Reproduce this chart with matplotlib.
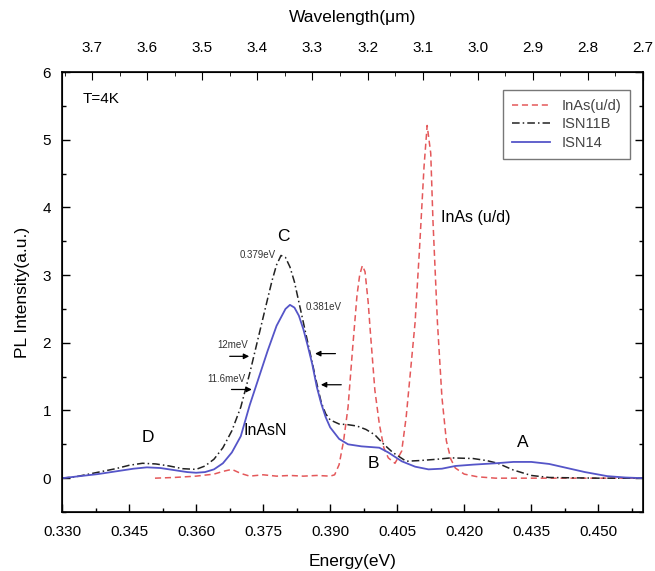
import numpy as np
import matplotlib.pyplot as plt
from matplotlib.ticker import MultipleLocator

plt.rcParams['font.family'] = ['Liberation Sans', 'DejaVu Sans']

# ---- data ----
e_inas = [0.3508, 0.355, 0.360, 0.364, 0.366, 0.368, 0.370, 0.372, 0.375, 0.378,
          0.381, 0.384, 0.387, 0.390, 0.391, 0.392, 0.393, 0.394, 0.395, 0.396,
          0.3966, 0.3972, 0.3978, 0.3985, 0.399, 0.400, 0.401, 0.402, 0.403, 0.4045,
          0.406, 0.407, 0.408, 0.409, 0.410, 0.411, 0.4117, 0.4125, 0.413, 0.414,
          0.415, 0.416, 0.417, 0.418, 0.420, 0.423, 0.427, 0.460]
i_inas = [0.00, 0.01, 0.03, 0.06, 0.10, 0.13, 0.07, 0.03, 0.05, 0.03,
          0.04, 0.03, 0.04, 0.03, 0.05, 0.20, 0.55, 1.05, 1.90, 2.70,
          3.00, 3.14, 3.05, 2.60, 2.15, 1.30, 0.80, 0.45, 0.30, 0.22,
          0.40, 0.90, 1.60, 2.30, 3.40, 4.60, 5.21, 4.80, 3.80, 2.30,
          1.20, 0.55, 0.28, 0.15, 0.06, 0.02, 0.00, 0.00]

e_isn11b = [0.330, 0.333, 0.336, 0.339, 0.342, 0.345, 0.348, 0.351, 0.354, 0.357,
            0.360, 0.362, 0.364, 0.366, 0.368, 0.370, 0.372, 0.374, 0.376, 0.377,
            0.378, 0.379, 0.380, 0.381, 0.382, 0.383, 0.384, 0.385, 0.386, 0.387,
            0.388, 0.389, 0.390, 0.392, 0.394, 0.396, 0.398, 0.400, 0.402, 0.404,
            0.407, 0.410, 0.414, 0.417, 0.422, 0.425, 0.4275, 0.431, 0.435, 0.439,
            0.450, 0.460]
i_isn11b = [0.00, 0.02, 0.06, 0.10, 0.14, 0.19, 0.22, 0.21, 0.18, 0.14,
            0.13, 0.18, 0.28, 0.45, 0.70, 1.05, 1.55, 2.10, 2.65, 2.92,
            3.15, 3.29, 3.26, 3.12, 2.90, 2.60, 2.30, 2.00, 1.70, 1.40,
            1.12, 0.95, 0.86, 0.80, 0.79, 0.77, 0.72, 0.64, 0.50, 0.38,
            0.25, 0.26, 0.28, 0.30, 0.29, 0.26, 0.22, 0.12, 0.04, 0.01,
            0.00, 0.00]

e_isn14 = [0.330, 0.334, 0.338, 0.342, 0.346, 0.349, 0.352, 0.355, 0.358, 0.360,
           0.362, 0.364, 0.366, 0.368, 0.370, 0.372, 0.374, 0.376, 0.378, 0.380,
           0.381, 0.382, 0.383, 0.384, 0.385, 0.386, 0.387, 0.388, 0.389, 0.390,
           0.392, 0.394, 0.397, 0.401, 0.403, 0.406, 0.409, 0.412, 0.415, 0.418,
           0.422, 0.427, 0.431, 0.435, 0.439, 0.443, 0.447, 0.452, 0.456, 0.460]
i_isn14 = [0.00, 0.03, 0.06, 0.10, 0.14, 0.16, 0.15, 0.12, 0.09, 0.08,
           0.09, 0.13, 0.22, 0.38, 0.62, 1.08, 1.48, 1.88, 2.25, 2.50,
           2.56, 2.52, 2.40, 2.20, 1.95, 1.68, 1.35, 1.10, 0.90, 0.75,
           0.58, 0.50, 0.47, 0.45, 0.38, 0.25, 0.17, 0.13, 0.14, 0.18,
           0.20, 0.22, 0.24, 0.24, 0.21, 0.15, 0.09, 0.03, 0.01, 0.00]

wl_ticks = [3.7, 3.6, 3.5, 3.4, 3.3, 3.2, 3.1, 3.0, 2.9, 2.8, 2.7]

fig = plt.figure(figsize=(6.55, 5.71), dpi=100)
ax = fig.add_axes([0.0947, 0.1033, 0.887, 0.7706])

ax.plot(e_inas, i_inas, color='#e4585a', ls=(0, (4, 2.5)), lw=1.1, label='InAs(u/d)')
ax.plot(e_isn11b, i_isn11b, color='#222222', ls=(0, (5, 2, 1, 2)), lw=1.1, label='ISN11B')
ax.plot(e_isn14, i_isn14, color='#5555c8', ls='-', lw=1.3, label='ISN14')

ax.set_xlim(0.33, 0.46)
ax.set_ylim(-0.5, 6)
ax.set_xticks([0.330, 0.345, 0.360, 0.375, 0.390, 0.405, 0.420, 0.435, 0.450])
ax.xaxis.set_minor_locator(MultipleLocator(0.0075))
ax.yaxis.set_major_locator(MultipleLocator(1))
ax.yaxis.set_minor_locator(MultipleLocator(0.5))
ax.xaxis.set_major_formatter(plt.FormatStrFormatter('%.3f'))
ax.tick_params(which='both', direction='in', right=True, labelsize=11, width=1.0)
ax.tick_params(which='major', length=6)
ax.tick_params(axis='x', which='major', pad=9)
ax.tick_params(axis='y', which='major', pad=8)
ax.tick_params(which='minor', length=3)
ax.set_xlabel('Energy(eV)', fontsize=12.5, labelpad=11)
ax.set_ylabel('PL Intensity(a.u.)', fontsize=12.5, labelpad=9)
for s in ax.spines.values():
    s.set_linewidth(1.2)

# top wavelength axis
ax2 = ax.twiny()
ax2.set_xlim(3.7545, 2.7)
ax2.set_xticks(wl_ticks)
ax2.xaxis.set_minor_locator(MultipleLocator(0.05))
ax2.xaxis.set_major_formatter(plt.FormatStrFormatter('%.1f'))
ax2.tick_params(which='both', direction='in', labelsize=11, pad=12)
ax2.tick_params(which='major', length=6)
ax2.tick_params(which='minor', length=3)
ax2.set_xlabel('Wavelength(\u03bcm)', fontsize=12.5, labelpad=14)

leg = ax.legend(loc='upper right', bbox_to_anchor=(0.99, 0.975), fontsize=10.5,
                frameon=True, fancybox=False, edgecolor='#555555', handlelength=2.6,
                borderpad=0.6, labelspacing=0.3, labelcolor='#444444')
leg.get_frame().set_linewidth(1.0)

# annotations
ax.text(0.3347, 5.6, 'T=4K', fontsize=11, va='center')
ax.text(0.3795, 3.57, 'C', fontsize=12.5, ha='center', va='center')
ax.text(0.3778, 3.3, '0.379eV', fontsize=7, ha='right', va='center', color='#333333')
ax.text(0.3844, 2.53, '0.381eV', fontsize=7, ha='left', va='center', color='#333333')
ax.text(0.3681, 1.97, '12meV', fontsize=7, ha='center', va='center', color='#333333')
ax.text(0.3667, 1.47, '11.6meV', fontsize=7, ha='center', va='center', color='#333333')
ax.text(0.3493, 0.6, 'D', fontsize=12.5, ha='center', va='center')
ax.text(0.3755, 0.7, 'InAsN', fontsize=11.5, ha='center', va='center')
ax.text(0.3996, 0.22, 'B', fontsize=12.5, ha='center', va='center')
ax.text(0.433, 0.52, 'A', fontsize=12.5, ha='center', va='center')
ax.text(0.4147, 3.85, 'InAs (u/d)', fontsize=11.5, ha='left', va='center')

arr = dict(arrowstyle='-|>', color='black', lw=0.9, mutation_scale=8)
ax.annotate('', xy=(0.3725, 1.80), xytext=(0.3669, 1.80), arrowprops=arr)
ax.annotate('', xy=(0.3860, 1.84), xytext=(0.3918, 1.84), arrowprops=arr)
ax.annotate('', xy=(0.3731, 1.31), xytext=(0.3673, 1.31), arrowprops=arr)
ax.annotate('', xy=(0.3873, 1.38), xytext=(0.3931, 1.38), arrowprops=arr)

fig.savefig('out.png', dpi=100)
